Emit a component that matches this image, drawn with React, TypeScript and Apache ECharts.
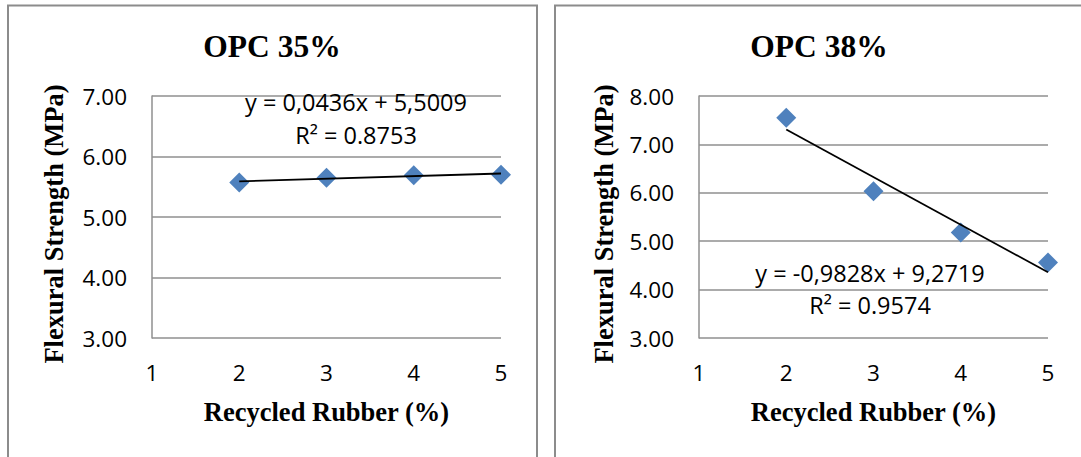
import React, { useEffect, useRef } from "react";
import * as echarts from "echarts";

// Recycled rubber content (%) for each specimen group
const rubberPct = [2, 3, 4, 5];

// Flexural strength (MPa) measured for each mix
const opc35Strength = [5.57, 5.65, 5.69, 5.7];
const opc38Strength = [7.55, 6.03, 5.18, 4.56];

// Linear trendline coefficients and their printed equations
const opc35Trend = { slope: 0.0436, intercept: 5.5009 };
const opc38Trend = { slope: -0.9828, intercept: 9.2719 };
const opc35Equation = ["y = 0,0436x + 5,5009", "R² = 0.8753"];
const opc38Equation = ["y = -0,9828x + 9,2719", "R² = 0.9574"];

const chartTitles = ["OPC 35%", "OPC 38%"];
const xTicks = [1, 2, 3, 4, 5];
const yRanges = [
  [3, 7],
  [3, 8],
];
const xAxisName = "Recycled Rubber (%)";
const yAxisName = "Flexural Strength (MPa)";

const W = 1081;
const H = 457;
const GRID_COLOR = "#8f8f8f";
const MARKER_COLOR = "#4F81BD";
const SANS = "'Open Sans', 'Liberation Sans', sans-serif";
const SERIF = "'Liberation Serif', 'DejaVu Serif', serif";

function trendPoints(t: { slope: number; intercept: number }) {
  const x0 = rubberPct[0];
  const x1 = rubberPct[rubberPct.length - 1];
  return [
    [x0, t.slope * x0 + t.intercept],
    [x1, t.slope * x1 + t.intercept],
  ];
}

export default function App() {
  const ref = useRef<HTMLDivElement>(null);

  useEffect(() => {
    if (!ref.current) return;
    const chart = echarts.init(ref.current, null, { renderer: "svg" });

    const panels = [
      { left: 152, data: opc35Strength, trend: opc35Trend, eq: opc35Equation, eqX: 356, eqY: [102, 135], boxX: 8, titleX: 272, yNameX: 54 },
      { left: 699, data: opc38Strength, trend: opc38Trend, eq: opc38Equation, eqX: 870, eqY: [273, 305], boxX: 555, titleX: 819, yNameX: 604 },
    ];
    const plotW = 349;
    const plotTop = 96;
    const plotH = 242;

    const graphic: any[] = [];
    panels.forEach((p, i) => {
      graphic.push({
        type: "rect",
        shape: { x: p.boxX, y: 5.5, width: 529, height: 500 },
        style: { fill: "none", stroke: "#8c8c8c", lineWidth: 2 },
        z: 0,
      });
      graphic.push({
        type: "text",
        x: p.titleX,
        y: 46,
        style: {
          text: chartTitles[i],
          fontSize: 31.5,
          fontWeight: "bold",
          fontFamily: SERIF,
          fill: "#000",
          textAlign: "center",
          textVerticalAlign: "middle",
        },
      });
      graphic.push({
        type: "text",
        x: p.left + plotW / 2,
        y: 412,
        style: {
          text: xAxisName,
          fontSize: 26.5,
          fontWeight: "bold",
          fontFamily: SERIF,
          fill: "#000",
          textAlign: "center",
          textVerticalAlign: "middle",
        },
      });
      graphic.push({
        type: "text",
        x: p.yNameX,
        y: 224,
        rotation: Math.PI / 2,
        style: {
          text: yAxisName,
          fontSize: 26.5,
          fontWeight: "bold",
          fontFamily: SERIF,
          fill: "#000",
          textAlign: "center",
          textVerticalAlign: "middle",
        },
      });
      p.eq.forEach((line, k) => {
        graphic.push({
          type: "text",
          x: p.eqX,
          y: p.eqY[k],
          z: 10,
          style: {
            text: line,
            fontSize: 23.5,
            fontFamily: SANS,
            fill: "#000",
            textAlign: "center",
            textVerticalAlign: "middle",
          },
        });
      });
    });

    chart.setOption({
      animation: false,
      backgroundColor: "#fff",
      grid: panels.map((p) => ({ left: p.left, top: plotTop, width: plotW, height: plotH })),
      xAxis: panels.map((_, i) => ({
        type: "value",
        gridIndex: i,
        min: xTicks[0],
        max: xTicks[xTicks.length - 1],
        interval: 1,
        axisLine: { show: false },
        axisTick: { show: false },
        splitLine: { show: false },
        axisLabel: { fontSize: 22.5, fontFamily: SANS, color: "#000", margin: 23 },
      })),
      yAxis: panels.map((_, i) => ({
        type: "value",
        gridIndex: i,
        min: yRanges[i][0],
        max: yRanges[i][1],
        interval: 1,
        axisLine: { show: true, lineStyle: { color: GRID_COLOR, width: 1.5 } },
        axisTick: { show: false },
        splitLine: { show: true, lineStyle: { color: GRID_COLOR, width: 1.5 } },
        axisLabel: {
          fontSize: 22.5,
          fontFamily: SANS,
          color: "#000",
          margin: 25,
          formatter: (v: number) => v.toFixed(2),
        },
      })),
      series: panels.flatMap((p, i) => [
        {
          type: "scatter",
          xAxisIndex: i,
          yAxisIndex: i,
          symbol: "diamond",
          symbolSize: 20,
          itemStyle: { color: MARKER_COLOR, opacity: 1 },
          data: rubberPct.map((x, k) => [x, p.data[k]]),
          z: 2,
        },
        {
          type: "line",
          xAxisIndex: i,
          yAxisIndex: i,
          symbol: "none",
          lineStyle: { color: "#000", width: 1.8 },
          data: trendPoints(p.trend),
          z: 3,
        },
      ]),
      graphic,
    });

    return () => chart.dispose();
  }, []);

  return (
    <div
      ref={ref}
      style={{ position: "fixed", left: 0, top: 0, width: W, height: H, background: "#fff" }}
    />
  );
}
